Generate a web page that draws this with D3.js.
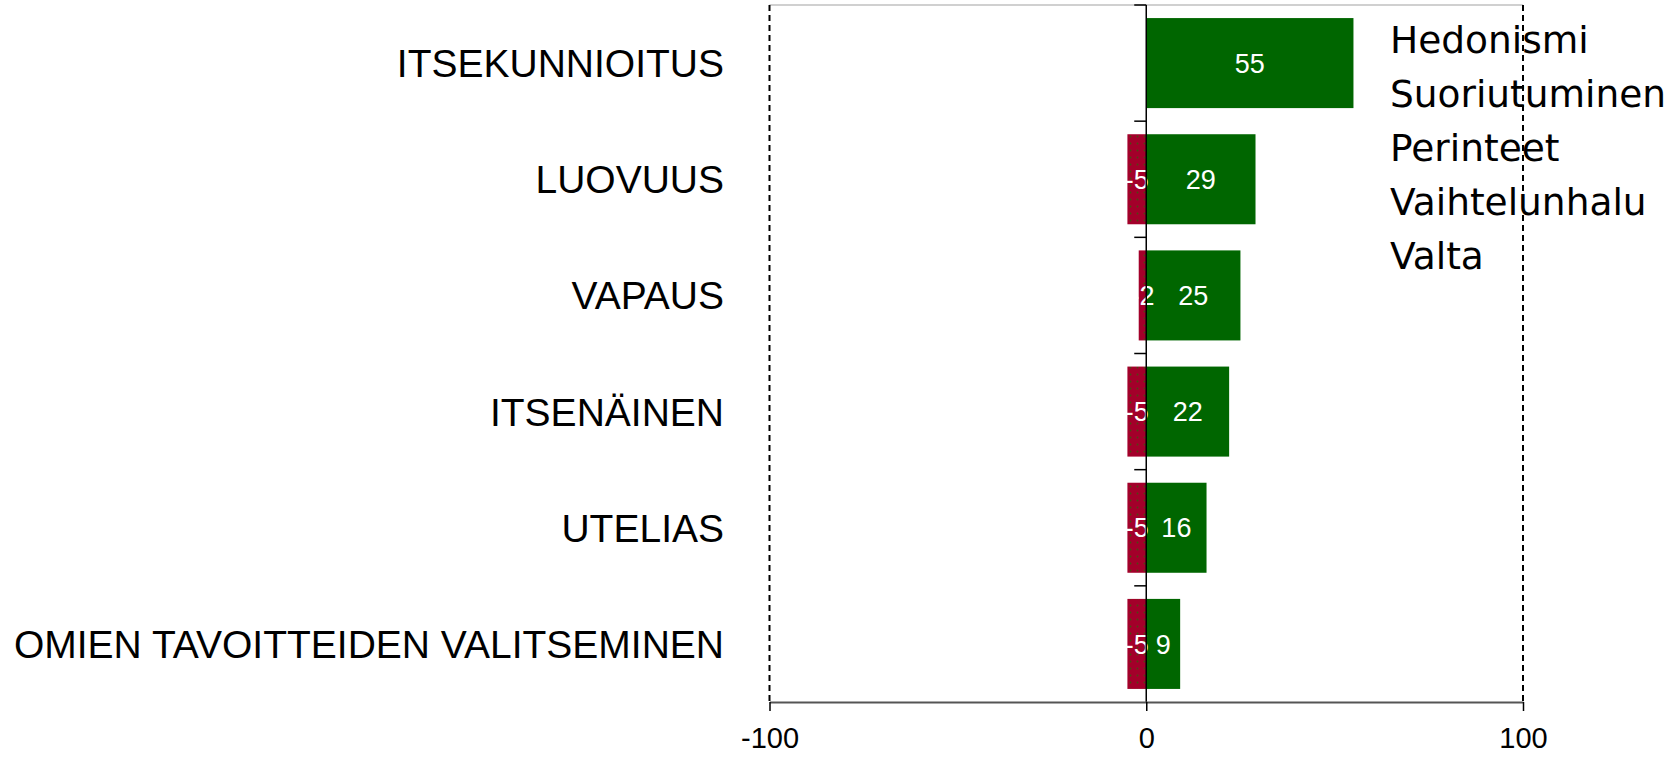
<!DOCTYPE html>
<html><head><meta charset="utf-8">
<script src="https://cdn.jsdelivr.net/npm/d3@7"></script>
<style>body{margin:0;background:#fff;overflow:hidden}</style>
</head><body>
<svg id="chart" width="1674" height="758"></svg>
<script>
const categories = ["ITSEKUNNIOITUS","LUOVUUS","VAPAUS","ITSENÄINEN","UTELIAS","OMIEN TAVOITTEIDEN VALITSEMINEN"];
const negativeValues = [0,-5,-2,-5,-5,-5];
const positiveValues = [55,29,25,22,16,9];
const legendLabels = ["Hedonismi","Suoriutuminen","Perinteet","Vaihtelunhalu","Valta"];
const xTicks = [-100,0,100];

(function(){
const svg = d3.select("#chart");
const plotTop = 5, plotBottom = 702, plotLeft = 769.5, plotRight = 1523;
const x = d3.scaleLinear().domain([-100,100]).range([plotLeft,plotRight]);
const y = d3.scaleBand().domain(categories).range([plotTop,plotBottom]).paddingInner(0.225).paddingOuter(0.1125);
const yb = d3.scaleBand().domain(categories).range([plotTop,plotBottom]);

const defs = svg.append("defs");
const pat = defs.append("pattern").attr("id","dots").attr("patternUnits","userSpaceOnUse").attr("width",7).attr("height",7);
pat.append("rect").attr("width",7).attr("height",7).attr("fill","#A3002A");
pat.append("circle").attr("cx",3.5).attr("cy",3.5).attr("r",0.9).attr("fill","#4a4a10");

svg.append("line").attr("x1",plotLeft).attr("x2",plotRight).attr("y1",plotTop).attr("y2",plotTop).attr("stroke","#c0c0c0").attr("stroke-width",1.5);
[-100,100].forEach(v=>{
  svg.append("line").attr("x1",x(v)).attr("x2",x(v)).attr("y1",plotTop).attr("y2",plotBottom)
    .attr("stroke","#000").attr("stroke-width",2).attr("stroke-dasharray","6,4");
});

const font = "'Liberation Sans', Arial, sans-serif";

const rows = categories.map((c,i)=>({c, neg:negativeValues[i], pos:positiveValues[i]}));
svg.selectAll("rect.neg").data(rows.filter(d=>d.neg!==0)).join("rect").attr("class","neg")
  .attr("x",d=>x(d.neg)).attr("width",d=>x(0)-x(d.neg)).attr("y",d=>y(d.c)).attr("height",y.bandwidth())
  .attr("fill","url(#dots)");
svg.selectAll("rect.pos").data(rows).join("rect").attr("class","pos")
  .attr("x",x(0)).attr("width",d=>x(d.pos)-x(0)).attr("y",d=>y(d.c)).attr("height",y.bandwidth())
  .attr("fill","#006600");

svg.selectAll("text.nl").data(rows.filter(d=>d.neg!==0)).join("text").attr("class","nl")
  .attr("x",d=>(x(d.neg)+x(0))/2).attr("y",d=>y(d.c)+y.bandwidth()/2).attr("dy","0.36em")
  .attr("text-anchor","middle").attr("fill","#fff").style("font-family",font).style("font-size","27px").text(d=>String(d.neg));
svg.selectAll("text.pl").data(rows).join("text").attr("class","pl")
  .attr("x",d=>(x(d.pos)+x(0))/2).attr("y",d=>y(d.c)+y.bandwidth()/2).attr("dy","0.36em")
  .attr("text-anchor","middle").attr("fill","#fff").style("font-family",font).style("font-size","27px").text(d=>String(d.pos));

svg.append("line").attr("x1",x(0)).attr("x2",x(0)).attr("y1",plotTop).attr("y2",plotBottom).attr("stroke","#000").attr("stroke-width",1.5);
const bounds = categories.map(c=>yb(c));
svg.selectAll("line.yt").data(bounds).join("line").attr("class","yt")
  .attr("x1",x(0)-12).attr("x2",x(0)).attr("y1",d=>d).attr("y2",d=>d).attr("stroke","#000").attr("stroke-width",1.5);

svg.selectAll("text.cat").data(categories).join("text").attr("class","cat")
  .attr("x",724).attr("y",d=>yb(d)+yb.bandwidth()/2).attr("dy","0.36em").attr("text-anchor","end")
  .style("font-family",font).style("font-size","39px").attr("fill","#000").text(d=>d);

const xa = svg.append("g").attr("transform",`translate(0,${plotBottom})`)
  .call(d3.axisBottom(x).tickValues(xTicks).tickSize(9).tickSizeOuter(0).tickPadding(16).tickFormat(d=>String(d)));
xa.select(".domain").attr("stroke","#555").attr("stroke-width",2);
xa.selectAll(".tick line").attr("stroke","#000").attr("stroke-width",1.5);
xa.selectAll(".tick text").style("font-family",font).style("font-size","29px").attr("fill","#000");

svg.selectAll("text.leg").data(legendLabels).join("text").attr("class","leg")
  .attr("x",1390).attr("y",(d,i)=>53+i*54)
  .style("font-family","'DejaVu Sans', Verdana, sans-serif").style("font-size","37.5px").attr("fill","#000").text(d=>d);
})();
</script>
</body></html>
